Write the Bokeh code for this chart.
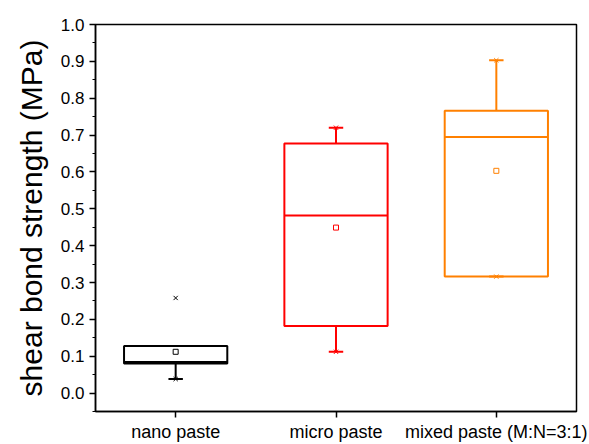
from bokeh.plotting import figure
from bokeh.models import FixedTicker, Range1d, NumeralTickFormatter
from bokeh.embed import file_html
from bokeh.resources import INLINE

categories = ["nano paste", "micro paste", "mixed paste (M:N=3:1)"]
positions = [1, 2, 3]
q1 = [0.080, 0.182, 0.316]
median = [0.084, 0.482, 0.695]
q3 = [0.128, 0.677, 0.766]
mean = [0.112, 0.449, 0.603]
whisker_lo = [0.038, 0.112, 0.316]
whisker_hi = [0.128, 0.720, 0.903]
min_val = [0.038, 0.112, 0.316]
max_val = [0.258, 0.720, 0.903]
colors = ["#000000", "#FF0000", "#FF8000"]

p = figure(width=589, height=444, output_backend="svg", toolbar_location=None,
           x_range=Range1d(0.5, 3.5), y_range=Range1d(-0.05, 1.0),
           min_border_left=95, min_border_right=13, min_border_top=24, min_border_bottom=29)
p.grid.visible = False
p.outline_line_color = "black"
p.outline_line_width = 1.5
p.background_fill_color = "white"
p.border_fill_color = "white"

half = 0.322
cap = 0.045
for i, x in enumerate(positions):
    c = colors[i]
    p.quad(left=[x - half], right=[x + half], bottom=[q1[i]], top=[q3[i]],
           fill_color=None, line_color=c, line_width=2)
    p.segment(x0=[x - half], x1=[x + half], y0=[median[i]], y1=[median[i]],
              line_color=c, line_width=2)
    p.segment(x0=[x, x], x1=[x, x], y0=[q3[i], q1[i]], y1=[whisker_hi[i], whisker_lo[i]],
              line_color=c, line_width=2)
    p.segment(x0=[x - cap, x - cap], x1=[x + cap, x + cap],
              y0=[whisker_hi[i], whisker_lo[i]], y1=[whisker_hi[i], whisker_lo[i]],
              line_color=c, line_width=2)
    p.scatter(x=[x], y=[mean[i]], marker="square", size=5, fill_color="white",
              line_color=c, line_width=1)
    p.scatter(x=[x, x], y=[min_val[i], max_val[i]], marker="x", size=6,
              line_color=c, line_width=1)

p.xaxis.ticker = FixedTicker(ticks=positions)
p.xaxis.major_label_overrides = {pos: lab for pos, lab in zip(positions, categories)}
p.xaxis.minor_tick_line_color = None
p.xaxis.major_tick_out = 6
p.xaxis.major_tick_in = 0
p.xaxis.axis_line_width = 1.5
p.xaxis.major_tick_line_width = 1.5
p.xaxis.major_label_text_font = "Liberation Sans"
p.xaxis.major_label_text_font_size = "18px"
p.xaxis.major_label_text_color = "black"
p.xaxis.major_label_standoff = 4

p.yaxis.ticker = FixedTicker(ticks=[round(0.1 * k, 1) for k in range(11)],
                             minor_ticks=[round(0.05 * k - 0.05, 2) for k in range(23)])
p.yaxis.major_tick_out = 6
p.yaxis.major_tick_in = 0
p.yaxis.minor_tick_out = 3
p.yaxis.minor_tick_in = 0
p.yaxis.axis_line_width = 1.5
p.yaxis.major_tick_line_width = 1.5
p.yaxis.formatter = NumeralTickFormatter(format="0.0")
p.yaxis.major_label_text_font = "Liberation Sans"
p.yaxis.major_label_text_font_size = "17px"
p.yaxis.major_label_text_color = "black"
p.yaxis.major_label_standoff = 5
p.yaxis.axis_label = "shear bond strength (MPa)"
p.yaxis.axis_label_text_font = "Liberation Sans"
p.yaxis.axis_label_text_font_size = "30px"
p.yaxis.axis_label_text_font_style = "normal"
p.yaxis.axis_label_text_color = "black"
p.yaxis.axis_label_standoff = 10

open("out.html", "w").write(file_html(p, INLINE))
